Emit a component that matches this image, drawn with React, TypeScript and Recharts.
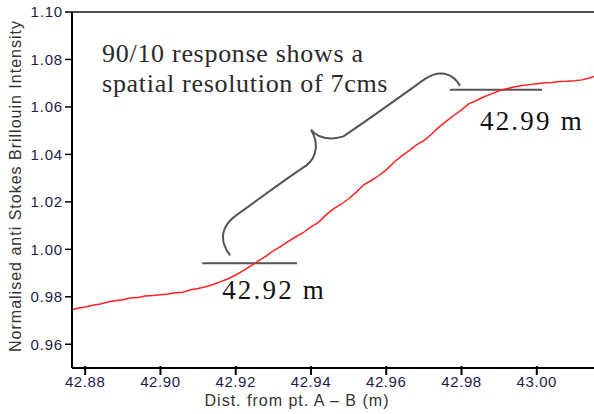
import { LineChart, Line, XAxis, YAxis, ReferenceLine } from 'recharts';

// distance along fibre (m) and normalised anti-Stokes intensity
const DIST = [
  42.8765, 42.878, 42.880, 42.882, 42.884, 42.886, 42.888, 42.890, 42.892, 42.894,
  42.896, 42.898, 42.900, 42.902, 42.904, 42.906, 42.908, 42.910, 42.912, 42.914,
  42.916, 42.918, 42.920, 42.922, 42.924, 42.926, 42.928, 42.930, 42.932, 42.934,
  42.936, 42.938, 42.940, 42.942, 42.944, 42.946, 42.948, 42.950, 42.952, 42.954,
  42.956, 42.958, 42.960, 42.962, 42.964, 42.966, 42.968, 42.970, 42.972, 42.974,
  42.976, 42.978, 42.980, 42.982, 42.984, 42.986, 42.988, 42.990, 42.992, 42.994,
  42.996, 42.998, 43.000, 43.002, 43.004, 43.006, 43.008, 43.010, 43.012, 43.014, 43.0152,
];
const INTENSITY = [
  0.9745, 0.9752, 0.9757, 0.9764, 0.9770, 0.9778, 0.9783, 0.9788, 0.9795, 0.9797,
  0.9803, 0.9805, 0.9809, 0.9812, 0.9817, 0.9819, 0.9830, 0.9835, 0.9842, 0.9852,
  0.9864, 0.9876, 0.9892, 0.9910, 0.9930, 0.9951, 0.9970, 0.9994, 1.0012, 1.0034,
  1.0053, 1.0071, 1.0095, 1.0114, 1.0145, 1.0170, 1.0190, 1.0213, 1.0240, 1.0272,
  1.0290, 1.0310, 1.0335, 1.0366, 1.0393, 1.0415, 1.0440, 1.0458, 1.0485, 1.0515,
  1.0540, 1.0565, 1.0588, 1.0614, 1.0627, 1.0643, 1.0655, 1.0668, 1.0677, 1.0684,
  1.0690, 1.0694, 1.0698, 1.0702, 1.0703, 1.0707, 1.0708, 1.0710, 1.0714, 1.0722, 1.0728,
];

const X_TICKS = [42.88, 42.90, 42.92, 42.94, 42.96, 42.98, 43.00];
const Y_TICKS = [0.96, 0.98, 1.00, 1.02, 1.04, 1.06, 1.08, 1.10];
const X_DOMAIN = [42.8765, 43.0152];
const Y_DOMAIN = [0.95, 1.10];

// 10% / 90% levels: [xStart, xEnd, y]
const LOW_MARK = [42.9111, 42.9363, 0.9941];
const HIGH_MARK = [42.9769, 43.0014, 1.0672];

// curly brace, in data units: start point then cubic segments (c1, c2, end)
const BRACE_START = [42.9185, 0.9975];
const BRACE_SEGS = [
  [[42.9153, 1.0042], [42.9164, 1.0101], [42.9201, 1.0143]],
  [[42.9280, 1.0233], [42.9330, 1.0293], [42.9387, 1.0353]],
  [[42.9419, 1.0391], [42.9419, 1.0454], [42.9400, 1.0504]],
  [[42.9419, 1.0466], [42.9445, 1.0458], [42.9485, 1.0475]],
  [[42.9560, 1.0555], [42.9630, 1.0635], [42.9703, 1.0718]],
  [[42.9738, 1.0756], [42.9775, 1.0748], [42.9796, 1.0689]],
];

const NOTE_LINES = ['90/10 response shows a', 'spatial resolution of 7cms'];
const NOTE_POS = [[42.8845, 1.0790], [42.8845, 1.0664]];
const LOW_LABEL = { text: '42.92 m', x: 42.9164, y: 0.9790 };
const HIGH_LABEL = { text: '42.99 m', x: 42.9849, y: 1.0504 };

const data = DIST.map((d, i) => ({ d, v: INTENSITY[i] }));

const sans = '"Liberation Sans", Arial, sans-serif';
const serif = '"Liberation Serif", "Times New Roman", serif';
const tickColor = '#1c1c4a';

function XTick(props: any) {
  const { x, y, payload } = props;
  return (
    <g>
      <line x1={x} x2={x} y1={y - 2} y2={y + 7} stroke="#000" strokeWidth={2} />
      <text x={x} y={y + 19} textAnchor="middle" fill={tickColor} fontSize={15}
        fontFamily={sans} letterSpacing={0.6}>
        {Number(payload.value).toFixed(2)}
      </text>
    </g>
  );
}

// draws brace, labels and axis titles; the segment spans the whole plot so
// its endpoints give the pixel mapping
function Annotations(props: any) {
  const { x1, y1, x2, y2 } = props;
  if (x1 == null) return null;
  const sx = (d: number) => x1 + ((d - X_DOMAIN[0]) / (X_DOMAIN[1] - X_DOMAIN[0])) * (x2 - x1);
  const sy = (v: number) => y1 + ((v - Y_DOMAIN[0]) / (Y_DOMAIN[1] - Y_DOMAIN[0])) * (y2 - y1);
  const pt = (p: number[]) => `${sx(p[0]).toFixed(1)} ${sy(p[1]).toFixed(1)}`;
  const path = `M ${pt(BRACE_START)} ` + BRACE_SEGS.map((s) =>
    `C ${pt(s[0])}, ${pt(s[1])}, ${pt(s[2])}`).join(' ');
  const midY = (y1 + y2) / 2;
  return (
    <g>
      <path d={path} fill="none" stroke="#555" strokeWidth={2} />
      {NOTE_LINES.map((t, i) => (
        <text key={t} x={sx(NOTE_POS[i][0])} y={sy(NOTE_POS[i][1])} fontSize={26}
          fontFamily={serif} fill="#2a2a2a" letterSpacing={0.7}>{t}</text>
      ))}
      {[LOW_LABEL, HIGH_LABEL].map((l) => (
        <text key={l.text} x={sx(l.x)} y={sy(l.y)} fontSize={27} fontFamily={serif}
          fill="#111" letterSpacing={2.2}>{l.text}</text>
      ))}
      <text x={x1 - 55} y={midY - 4} transform={`rotate(-90 ${x1 - 55} ${midY - 4})`}
        textAnchor="middle" dominantBaseline="middle" fontSize={16} fontFamily={sans}
        fill="#333" letterSpacing={1}>
        Normalised anti Stokes Brillouin Intensity
      </text>
      <text x={x1 + 225} y={y1 + 38} textAnchor="middle" fontSize={16} fontFamily={sans}
        fill="#333" letterSpacing={1}>
        Dist. from pt. A – B (m)
      </text>
    </g>
  );
}

export default function App() {
  return (
    <div style={{ position: 'absolute', left: 0, top: 0, width: 594, height: 414, background: '#fff' }}>
      <LineChart width={594} height={414} data={data}
        margin={{ top: 12, right: 0, bottom: 0, left: 0 }}>
        <XAxis
          dataKey="d"
          type="number"
          domain={X_DOMAIN}
          allowDataOverflow
          ticks={X_TICKS}
          height={46}
          tickSize={0}
          tickMargin={0}
          tickLine={false}
          tick={<XTick />}
          axisLine={{ stroke: '#000', strokeWidth: 2 }}
        />
        <YAxis
          type="number"
          domain={Y_DOMAIN}
          allowDataOverflow
          ticks={Y_TICKS}
          width={72}
          tickSize={7}
          tickMargin={2}
          tickLine={{ stroke: '#000', strokeWidth: 1.5 }}
          axisLine={{ stroke: '#000', strokeWidth: 2 }}
          tick={{ fill: tickColor, fontSize: 15, fontFamily: sans, letterSpacing: 0.8 }}
          tickFormatter={(v: number) => v.toFixed(2)}
        />
        <ReferenceLine y={1.10} stroke="#111" strokeWidth={1.5} />
        <ReferenceLine segment={[{ x: LOW_MARK[0], y: LOW_MARK[2] }, { x: LOW_MARK[1], y: LOW_MARK[2] }]}
          stroke="#555" strokeWidth={2} />
        <ReferenceLine segment={[{ x: HIGH_MARK[0], y: HIGH_MARK[2] }, { x: HIGH_MARK[1], y: HIGH_MARK[2] }]}
          stroke="#555" strokeWidth={2} />
        <Line
          type="linear"
          dataKey="v"
          stroke="#ff2020"
          strokeWidth={1.5}
          dot={false}
          activeDot={false}
          isAnimationActive={false}
        />
        <ReferenceLine
          segment={[{ x: X_DOMAIN[0], y: Y_DOMAIN[0] }, { x: X_DOMAIN[1], y: Y_DOMAIN[1] }]}
          shape={(p: any) => <Annotations {...p} />}
        />
      </LineChart>
    </div>
  );
}
